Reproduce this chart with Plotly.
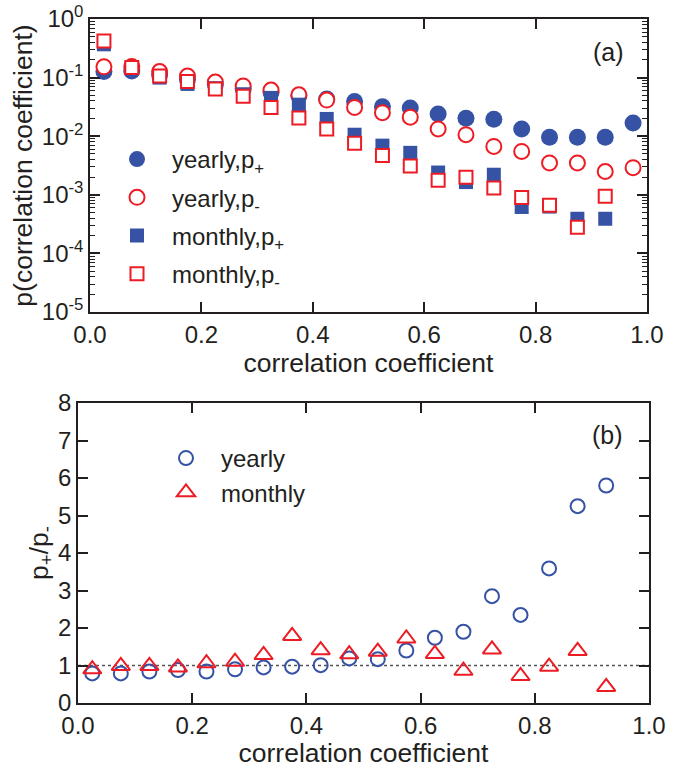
import plotly.graph_objects as go

# ---------------- data ----------------
cc_bins = [0.025, 0.075, 0.125, 0.175, 0.225, 0.275, 0.325, 0.375, 0.425, 0.475,
           0.525, 0.575, 0.625, 0.675, 0.725, 0.775, 0.825, 0.875, 0.925, 0.975]

yearly_p_plus = [0.127, 0.13, 0.112, 0.093, 0.076, 0.064, 0.056, 0.049, 0.043, 0.039,
                 0.0319, 0.0304, 0.0239, 0.0203, 0.0195, 0.0133, 0.0096, 0.0096, 0.0096, 0.0168]
yearly_p_minus = [0.153, 0.154, 0.127, 0.106, 0.084, 0.072, 0.0614, 0.051, 0.0414, 0.031,
                  0.0252, 0.0211, 0.0133, 0.0106, 0.0067, 0.0055, 0.0035, 0.0035, 0.0025, 0.0029]

cc_bins_m = cc_bins[:19]
monthly_p_plus = [0.37, 0.14, 0.10, 0.078, 0.066, 0.052, 0.045, 0.0345, 0.0197, 0.0106,
                  0.0069, 0.0052, 0.0024, 0.00165, 0.0022, 0.00062, 0.00063, 0.00039, 0.00039]
monthly_p_minus = [0.42, 0.148, 0.106, 0.086, 0.064, 0.048, 0.031, 0.0205, 0.0133, 0.0076,
                   0.0047, 0.0031, 0.00177, 0.0020, 0.00131, 0.00090, 0.00066, 0.00028, 0.00094]

ratio_x = cc_bins[:19]
ratio_yearly = [0.79, 0.79, 0.84, 0.88, 0.84, 0.90, 0.95, 0.97, 1.01, 1.19,
                1.17, 1.40, 1.74, 1.90, 2.85, 2.35, 3.59, 5.25, 5.80]
ratio_monthly = [0.90, 0.99, 0.99, 0.95, 1.06, 1.10, 1.28, 1.79, 1.41, 1.30,
                 1.37, 1.72, 1.31, 0.86, 1.43, 0.72, 0.97, 1.39, 0.43]

x_ticks = [0.0, 0.2, 0.4, 0.6, 0.8, 1.0]
x_ticktext = ["0.0", "0.2", "0.4", "0.6", "0.8", "1.0"]
log_ticks = [1, 0.1, 0.01, 0.001, 0.0001, 0.00001]
log_ticktext = ["10<sup>0</sup>", "10<sup>-1</sup>", "10<sup>-2</sup>",
                "10<sup>-3</sup>", "10<sup>-4</sup>", "10<sup>-5</sup>"]
ratio_ticks = [0, 1, 2, 3, 4, 5, 6, 7, 8]
ratio_ref = 1.0

# ---------------- style ----------------
BLUE = "#3652a5"
RED = "#ed1c24"
AX = "#231f20"
FONT = "Liberation Sans, Arial, sans-serif"
TICK = 24
TITLE = 26.5
LEG = 24
W, H = 680, 768


def px(x):
    return x / W


def py(y):
    return 1 - y / H


fig = go.Figure()

fig.add_trace(go.Scatter(x=cc_bins, y=yearly_p_plus, mode="markers", name="yearly,p<sub>+</sub>",
                         marker=dict(symbol="circle", size=17, color=BLUE, line=dict(width=0)),
                         xaxis="x", yaxis="y", legend="legend", legendgroup="a1"))
fig.add_trace(go.Scatter(x=cc_bins, y=yearly_p_minus, mode="markers", name="yearly,p<sub>-</sub>",
                         marker=dict(symbol="circle", size=15, color="white", line=dict(width=2, color=RED)),
                         xaxis="x", yaxis="y", legend="legend", legendgroup="a2"))
fig.add_trace(go.Scatter(x=cc_bins_m, y=monthly_p_plus, mode="markers", name="monthly,p<sub>+</sub>",
                         marker=dict(symbol="square", size=14, color=BLUE, line=dict(width=0)),
                         xaxis="x", yaxis="y", legend="legend", legendgroup="a3"))
fig.add_trace(go.Scatter(x=cc_bins_m, y=monthly_p_minus, mode="markers", name="monthly,p<sub>-</sub>",
                         marker=dict(symbol="square", size=13, color="white", line=dict(width=2, color=RED)),
                         xaxis="x", yaxis="y", legend="legend", legendgroup="a4"))

fig.add_trace(go.Scatter(x=ratio_x, y=ratio_yearly, mode="markers", name="yearly",
                         marker=dict(symbol="circle-open", size=14, color=BLUE, line=dict(width=2, color=BLUE)),
                         xaxis="x2", yaxis="y2", legend="legend2", legendgroup="b1"))
fig.add_trace(go.Scatter(x=ratio_x, y=ratio_monthly, mode="markers", name="monthly",
                         marker=dict(symbol="triangle-up-open", size=16, color=RED, line=dict(width=2, color=RED)),
                         xaxis="x2", yaxis="y2", legend="legend2", legendgroup="b2"))

fig.add_shape(type="line", xref="x2", yref="y2", x0=x_ticks[0], x1=x_ticks[-1], y0=ratio_ref, y1=ratio_ref,
              line=dict(color="#555555", width=1.5, dash="dot"), layer="below")

axis_common = dict(showline=True, linecolor=AX, linewidth=1.5, mirror="ticks",
                   ticks="inside", ticklen=10, tickwidth=1.5, tickcolor=AX,
                   showgrid=False, zeroline=False, automargin=False,
                   ticklabeloverflow="allow",
                   tickfont=dict(family=FONT, size=TICK, color=AX))

fig.update_layout(
    width=W, height=H,
    margin=dict(l=0, r=0, t=0, b=0, autoexpand=False),
    paper_bgcolor="white", plot_bgcolor="white",
    font=dict(family=FONT, size=TICK, color=AX),
    showlegend=True,
    xaxis=dict(domain=[px(90), px(647)], anchor="y", range=[0, 1],
               tickvals=x_ticks, ticktext=x_ticktext,
               title=dict(text="correlation coefficient", standoff=0,
                          font=dict(family=FONT, size=TITLE, color=AX)),
               **axis_common),
    yaxis=dict(domain=[py(312), py(19)], anchor="x", type="log", range=[-5, 0],
               tickvals=log_ticks, ticktext=log_ticktext,
               minor=dict(ticks="inside", ticklen=5, tickwidth=1, tickcolor=AX, dtick="D1", showgrid=False),
               title=dict(text="p(correlation coefficient)", standoff=2,
                          font=dict(family=FONT, size=TITLE, color=AX)),
               **axis_common),
    xaxis2=dict(domain=[px(78), px(649)], anchor="y2", range=[0, 1],
                tickvals=x_ticks, ticktext=x_ticktext,
                title=dict(text="correlation coefficient", standoff=0,
                           font=dict(family=FONT, size=TITLE, color=AX)),
                **axis_common),
    yaxis2=dict(domain=[py(703), py(403)], anchor="x2", range=[0, 8],
                tickvals=ratio_ticks,
                title=dict(text="p<sub>+</sub>/p<sub>-</sub>", standoff=2,
                           font=dict(family=FONT, size=TITLE, color=AX)),
                **axis_common),
    legend=dict(x=px(102), y=py(137), xanchor="left", yanchor="top",
                bgcolor="rgba(0,0,0,0)", font=dict(family=FONT, size=LEG, color=AX),
                tracegroupgap=4, itemsizing="trace", itemwidth=60),
    legend2=dict(x=px(151), y=py(436), xanchor="left", yanchor="top",
                 bgcolor="rgba(0,0,0,0)", font=dict(family=FONT, size=LEG, color=AX),
                 tracegroupgap=0, itemsizing="trace", itemwidth=60),
    annotations=[
        dict(text="(a)", x=px(608), y=py(52), xref="paper", yref="paper", showarrow=False,
             xanchor="center", yanchor="middle", font=dict(family=FONT, size=25, color=AX)),
        dict(text="(b)", x=px(607), y=py(435), xref="paper", yref="paper", showarrow=False,
             xanchor="center", yanchor="middle", font=dict(family=FONT, size=25, color=AX)),
    ],
)

fig.write_html("out.html", config={"displayModeBar": False},
               post_script="document.body.style.margin='0';")
